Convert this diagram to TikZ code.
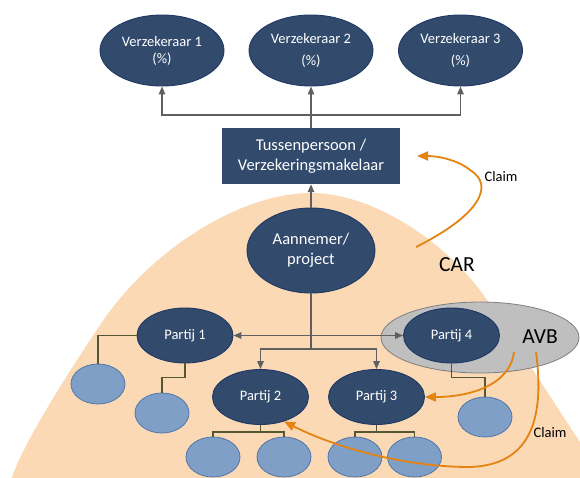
\documentclass[tikz,border=0pt]{standalone}
\usepackage{fontspec}
\setmainfont{Carlito}
\usetikzlibrary{shapes.geometric,arrows.meta,calc}

\definecolor{navy}{RGB}{50,74,108}
\definecolor{navyedge}{RGB}{31,56,100}
\definecolor{sky}{RGB}{127,159,198}
\definecolor{skyedge}{RGB}{79,118,172}
\definecolor{peach}{RGB}{250,217,180}
\definecolor{zonegray}{RGB}{191,191,191}
\definecolor{zoneedge}{RGB}{127,127,127}
\definecolor{claimorange}{RGB}{228,131,18}
\definecolor{linkgray}{RGB}{95,95,95}
\definecolor{olive}{RGB}{84,88,50}

\tikzset{
  party/.style={ellipse, draw=navyedge, fill=navy, line width=0.9pt, text=white,
    inner sep=0pt, align=center, minimum width=96pt, minimum height=55pt,
    font=\fontsize{14.5}{17}\selectfont},
  insurer/.style={party, minimum width=124pt, minimum height=71pt},
  sub/.style={ellipse, draw=skyedge, fill=sky, line width=0.8pt, inner sep=0pt,
    minimum width=54pt, minimum height=40pt},
  link/.style={draw=linkgray, line width=1.3pt},
  tip/.style={-{Triangle[length=8pt,width=6.5pt]}},
  twotips/.style={{Triangle[length=8pt,width=6.5pt]}-{Triangle[length=8pt,width=6.5pt]}},
  branch/.style={draw=olive, line width=1.2pt},
  claim/.style={draw=claimorange, line width=1.8pt, -{Triangle[length=11pt,width=9pt]}},
  label/.style={font=\fontsize{14.5}{17}\selectfont, text=black},
  biglabel/.style={font=\fontsize{21.5}{24}\selectfont, text=black},
}

\begin{document}
\begin{tikzpicture}[x=1pt,y=-1pt]
\useasboundingbox (0,0) rectangle (580,477);

% CAR coverage area
\fill[peach] (5,500) -- (12,477)
  .. controls (25,440) and (70,370) .. (100,325)
  .. controls (150,250) and (240,193) .. (311,193)
  .. controls (375,193) and (450,245) .. (487,300)
  .. controls (520,349) and (565,420) .. (603,477)
  -- (603,500) -- cycle;

% AVB coverage area
\node[ellipse, draw=zoneedge, fill=zonegray, line width=0.8pt, inner sep=0pt,
  minimum width=198pt, minimum height=71pt] (avbzone) at (480,337.5) {};

% insurers
\node[insurer] (v1) at (162,50.5) {Verzekeraar 1\\(\%)};
\node[insurer] (v2) at (311,50.5) {Verzekeraar 2\\[5pt](\%)};
\node[insurer] (v3) at (460.5,50.5) {Verzekeraar 3\\[5pt](\%)};

% broker
\node[fill=navy, text=white, align=center, inner sep=0pt, minimum width=178pt,
  minimum height=56pt, font=\fontsize{16.5}{20}\selectfont] (broker) at (311,156)
  {Tussenpersoon /\\Verzekeringsmakelaar};

% contractor
\node[party, minimum width=128pt, minimum height=85pt,
  font=\fontsize{16.5}{20}\selectfont] (main) at (311,250.5) {Aannemer/\\project};

% parties
\node[party] (p1) at (185,335.5) {Partij 1};
\node[party] (p4) at (451.5,335.5) {Partij 4};
\node[party] (p2) at (260.5,397) {Partij 2};
\node[party] (p3) at (376.5,397) {Partij 3};

% subcontractors
\node[sub] (c1) at (98,384) {};
\node[sub] (c2) at (162,413) {};
\node[sub] (c4) at (485,417) {};
\node[sub] (c21) at (213,457) {};
\node[sub] (c22) at (284,457) {};
\node[sub] (c31) at (355,457) {};
\node[sub] (c32) at (414.5,457) {};

% insurance chain
\coordinate (top) at (311,115);
\draw[link] (broker.north) -- (top);
\draw[link,tip] (top) -| (v1.south);
\draw[link,tip] (top) -- (v2.south);
\draw[link,tip] (top) -| (v3.south);
\draw[link,tip] (main.north) -- (broker.south);

% contract structure
\coordinate (fork) at (311,349);
\draw[link] (main.south) -- (fork);
\draw[link,tip] (fork) -| (p2.north);
\draw[link,tip] (fork) -| (p3.north);
\draw[link,twotips] (p1.east) -- (p4.west);

% subcontractor branches
\draw[branch] (p1.west) -| (c1.north);
\draw[branch] (p1.south) -- ++(0,14) -| (c2.north);
\draw[branch] (p4.south) -- ++(0,14) -| (c4.north);
\draw[branch] (p2.south) -- ++(0,7) coordinate (j2);
\draw[branch] (c21.north) |- (j2) -| (c22.north);
\draw[branch] (p3.south) -- ++(0,7) coordinate (j3);
\draw[branch] (c31.north) |- (j3) -| (c32.north);

% labels
\node[biglabel] (car) at (457,265) {CAR};
\node[biglabel] (avb) at (540,337) {AVB};
\node[label] (claimtop) at (501,177) {Claim};
\node[label] (claimlow) at (550,433) {Claim};

% claims
\coordinate (cars) at (416,247);
\coordinate (care) at (417,156);
\draw[claim] (cars) .. controls (480,215) and (495,185) .. (470,170)
  .. controls (458,160) and (438,156) .. (care);
\coordinate (avba) at (514,352);
\coordinate (avbb) at (536,352);
\draw[claim] (avba) .. controls (510,385) and (470,397) .. (p3.east);
\draw[claim] (avbb) .. controls (545,420) and (530,465) .. (470,467)
  .. controls (400,467) and (330,445) .. (p2.-46);
\end{tikzpicture}
\end{document}
